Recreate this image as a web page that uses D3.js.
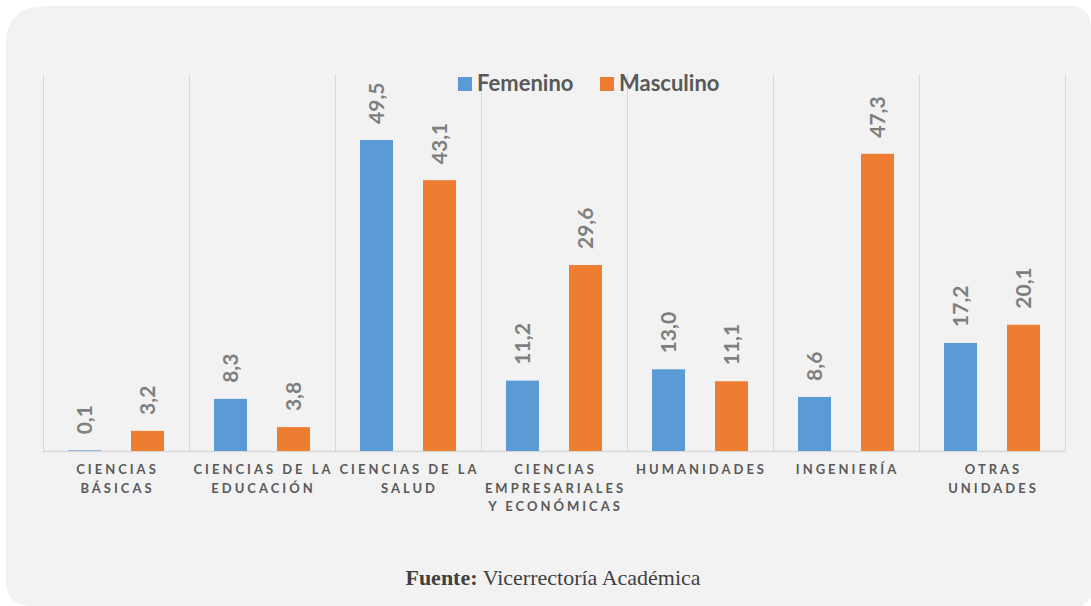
<!DOCTYPE html>
<html>
<head>
<meta charset="utf-8">
<script src="https://cdn.jsdelivr.net/npm/d3@7"></script>
<style>
  html, body { margin: 0; padding: 0; background: #ffffff; }
  svg { display: block; }
</style>
</head>
<body>
<svg id="chart" width="1091" height="606"></svg>
<script>
// ---- Data ----
const categories = [
  "CIENCIAS\nBÁSICAS",
  "CIENCIAS DE LA\nEDUCACIÓN",
  "CIENCIAS DE LA\nSALUD",
  "CIENCIAS\nEMPRESARIALES\nY ECONÓMICAS",
  "HUMANIDADES",
  "INGENIERÍA",
  "OTRAS\nUNIDADES"
];
const seriesNames = ["Femenino", "Masculino"];
const femenino = [0.1, 8.3, 49.5, 11.2, 13.0, 8.6, 17.2];
const masculino = [3.2, 3.8, 43.1, 29.6, 11.1, 47.3, 20.1];
const seriesColors = ["#5b9bd5", "#ed7d31"];
const sourceBold = "Fuente:";
const sourceText = " Vicerrectoría Académica";

// ---- Layout ----
const svg = d3.select("#chart");

// card background (irregular rounded corners)
const cx0 = 6, cy0 = 6, cx1 = 1091, cy1 = 606;
const rTL = 40, rTR = 22, rBL = 26;
const p = d3.path();
p.moveTo(cx0 + rTL, cy0);
p.lineTo(cx1 - rTR, cy0);
p.quadraticCurveTo(cx1, cy0, cx1, cy0 + rTR);
p.lineTo(cx1, cy1 - 8);
p.lineTo(cx1 - 8, cy1);
p.lineTo(cx0 + rBL, cy1);
p.quadraticCurveTo(cx0, cy1, cx0, cy1 - rBL);
p.lineTo(cx0, cy0 + rTL);
p.quadraticCurveTo(cx0, cy0, cx0 + rTL, cy0);
p.closePath();
svg.append("path").attr("d", p.toString()).attr("fill", "#f2f2f2");

const plotLeft = 43, plotRight = 1065, plotTop = 74, plotBottom = 451;

const x0 = d3.scaleBand().domain(d3.range(categories.length))
  .range([plotLeft, plotRight]).paddingInner(0).paddingOuter(0);
const x1 = d3.scaleBand().domain(seriesNames)
  .range([0, x0.bandwidth()]).paddingInner(30 / 63).paddingOuter(0.397);
const y = d3.scaleLinear().domain([0, 60]).range([plotBottom, plotTop]);

// vertical category separators
const seps = d3.range(categories.length + 1).map(i => i < categories.length ? x0(i) : plotRight);
svg.append("g").selectAll("line").data(seps).join("line")
  .attr("x1", d => d + 0.5).attr("x2", d => d + 0.5)
  .attr("y1", plotTop).attr("y2", plotBottom)
  .attr("stroke", "#d9d9d9").attr("stroke-width", 1);

// baseline
svg.append("line")
  .attr("x1", plotLeft).attr("x2", plotRight + 1)
  .attr("y1", plotBottom + 0.5).attr("y2", plotBottom + 0.5)
  .attr("stroke", "#d9d9d9").attr("stroke-width", 1.5);

// bars
const seriesData = [femenino, masculino];
const rows = [];
categories.forEach((c, i) => {
  seriesNames.forEach((s, j) => rows.push({ i, s, j, v: seriesData[j][i] }));
});

const gBars = svg.append("g");
gBars.selectAll("rect").data(rows).join("rect")
  .attr("x", d => x0(d.i) + x1(d.s))
  .attr("y", d => y(d.v))
  .attr("width", x1.bandwidth())
  .attr("height", d => y(0) - y(d.v))
  .attr("fill", d => seriesColors[d.j]);

// value labels (rotated)
gBars.selectAll("text").data(rows).join("text")
  .attr("transform", d => {
    const cx = x0(d.i) + x1(d.s) + x1.bandwidth() / 2 + 7.5;
    return `translate(${cx},${y(d.v) - 16}) rotate(-90)`;
  })
  .attr("text-anchor", "start")
  .attr("font-family", "Lato, 'Open Sans', sans-serif")
  .attr("font-weight", "bold")
  .attr("font-size", 21)
  .attr("fill", "#7f7f7f")
  .text(d => d.v.toFixed(1).replace(".", ","));

// category labels
const gCat = svg.append("g");
categories.forEach((c, i) => {
  const t = gCat.append("text")
    .attr("x", x0(i) + x0.bandwidth() / 2 + 1.5)
    .attr("y", 474)
    .attr("text-anchor", "middle")
    .attr("font-family", "Lato, 'Open Sans', sans-serif")
    .attr("font-weight", "bold")
    .attr("font-size", 13)
    .attr("letter-spacing", "3px")
    .attr("fill", "#595959");
  c.split("\n").forEach((line, k) => {
    t.append("tspan")
      .attr("x", x0(i) + x0.bandwidth() / 2 + 1.5)
      .attr("dy", k === 0 ? 0 : 18.5)
      .text(line);
  });
});

// legend
const legX = [458, 600];
const gLeg = svg.append("g");
seriesNames.forEach((s, j) => {
  gLeg.append("rect").attr("x", legX[j]).attr("y", 77).attr("width", 14).attr("height", 14)
    .attr("fill", seriesColors[j]);
  gLeg.append("text").attr("x", legX[j] + 19).attr("y", 91)
    .attr("font-family", "Lato, 'Open Sans', sans-serif")
    .attr("font-weight", "bold").attr("font-size", 22)
    .attr("fill", "#595959").text(s);
});

// source
const src = svg.append("text")
  .attr("x", 553).attr("y", 585)
  .attr("text-anchor", "middle")
  .attr("font-family", "'Liberation Serif', 'DejaVu Serif', serif")
  .attr("font-size", 22)
  .attr("fill", "#404040");
src.append("tspan").attr("font-weight", "bold").text(sourceBold);
src.append("tspan").text(sourceText);
</script>
</body>
</html>
